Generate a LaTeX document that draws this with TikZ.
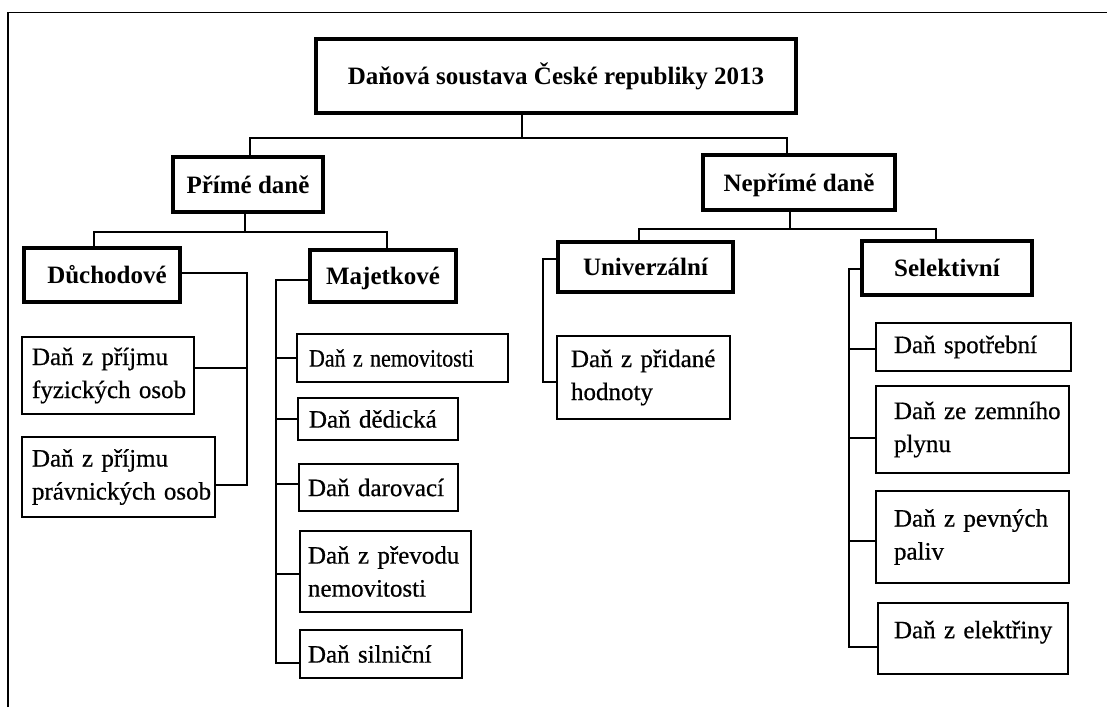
\documentclass[tikz,border=0pt]{standalone}
\usepackage{fontspec}
\setmainfont{Liberation Serif}
\newfontfamily\leaffont{Liberation Serif}[FakeBold=0.6]
\usepackage{graphicx}
\usetikzlibrary{calc}
\newcommand\lpad[2]{\leftskip=#1pt\relax #2\par}
\tikzset{
  head/.style={draw, line width=3.4pt, inner sep=0pt, text height=17pt, text depth=0pt, font=\fontsize{25}{33}\selectfont\bfseries},
  leaf/.style={draw, line width=2.4pt, inner sep=0pt, align=left, font=\fontsize{25}{33}\selectfont\leaffont},
  conn/.style={line width=2.6pt},
  frame/.style={line width=1.5pt},
}
\begin{document}
\begin{tikzpicture}[x=1pt,y=-1pt]
\useasboundingbox (0,0) rectangle (1107,707);

% frame (only top and left edges visible)
\coordinate (fa) at (8,707);
\coordinate (fb) at (8,12.3);
\coordinate (fc) at (1107,12.3);
\draw[frame] (fa) -- (fb) -- (fc);

% heading boxes
\node[head, minimum width=480pt, minimum height=74pt] (T) at (556,76) {Daňová soustava České republiky 2013};
\node[head, minimum width=150pt, minimum height=55pt] (P) at (248,184.5) {Přímé daně};
\node[head, minimum width=192pt, minimum height=55pt] (N) at (799,182.5) {Nepřímé daně};
\node[head, minimum width=156pt, minimum height=54pt] (D) at (102,275) {\hspace*{10pt}Důchodové};
\node[head, minimum width=146pt, minimum height=52pt] (M) at (383,276) {Majetkové};
\node[head, minimum width=175pt, minimum height=50pt] (U) at (645.5,267) {Univerzální};
\node[head, minimum width=170pt, minimum height=54pt] (S) at (947,268) {Selektivní};

% leaf boxes
\node[leaf, text width=172pt, minimum height=77pt] (F1) at (108,375.5) {\lpad{10}{Daň z~příjmu\\fyzických~osob}};
\node[leaf, text width=193pt, minimum height=80pt] (F2) at (118.5,477) {\lpad{10}{Daň z~příjmu\\právnických~osob}};

\node[leaf, text width=211pt, minimum height=48pt] (M1) at (402.5,358) {\lpad{12}{\scalebox{0.88}[1]{Daň z nemovitosti}}};
\node[leaf, text width=160pt, minimum height=42pt] (M2) at (378,419) {\lpad{11}{Daň dědická}};
\node[leaf, text width=159pt, minimum height=47pt] (M3) at (378.5,487.5) {\lpad{9}{Daň darovací}};
\node[leaf, text width=171pt, minimum height=81pt] (M4) at (385.5,571.5) {\lpad{8}{Daň z~převodu\\nemovitosti}};
\node[leaf, text width=162pt, minimum height=48pt] (M5) at (381,654) {\lpad{8}{Daň silniční}};

\node[leaf, text width=173pt, minimum height=83pt] (U1) at (643.5,377.5) {\lpad{14}{Daň z~přidané\\hodnoty}};

\node[leaf, text width=195pt, minimum height=48pt] (S1) at (973.5,347) {\lpad{18}{Daň spotřební}};
\node[leaf, text width=193pt, minimum height=87pt] (S2) at (972.5,429.5) {\lpad{18}{Daň ze~zemního\\plynu}};
\node[leaf, text width=193pt, minimum height=92pt] (S3) at (972.5,537) {\lpad{18}{Daň z~pevných\\paliv}};
\node[leaf, text width=190pt, minimum height=71pt, text depth=18pt] (S4) at (973,638.5) {\lpad{16}{Daň z~elektřiny}};

% top level connectors
\coordinate (tb) at (522,138);
\draw[conn] (T.south -| tb) -- (tb) -| ([xshift=2pt]P.north);
\draw[conn] (tb) -| ([xshift=-12pt]N.north);

\coordinate (pb) at (245,232);
\draw[conn] (P.south -| pb) -- (pb) -| ([xshift=-8pt]D.north);
\draw[conn] (pb) -| ([xshift=4pt]M.north);

\coordinate (nb) at (790,229);
\draw[conn] (N.south -| nb) -- (nb) -| ([xshift=-6.5pt]U.north);
\draw[conn] (nb) -| ([xshift=-11pt]S.north);

% Duchodove group
\coordinate (dv) at (247,0);
\coordinate (de) at ([yshift=2pt]D.east);
\coordinate (f1e) at ([yshift=7.5pt]F1.east);
\coordinate (f2e) at ([yshift=-8pt]F2.east);
\draw[conn] (de) -| (dv |- f2e) -- (f2e);
\draw[conn] (f1e) -- (dv |- f1e);

% Majetkove group
\coordinate (mv) at (276,0);
\coordinate (mw) at ([yshift=-4pt]M.west);
\coordinate (m1w) at (M1.west);
\coordinate (m2w) at (M2.west);
\coordinate (m3w) at ([yshift=3.5pt]M3.west);
\coordinate (m4w) at ([yshift=-2.5pt]M4.west);
\coordinate (m5w) at ([yshift=-9pt]M5.west);
\draw[conn] (mw) -| (mv |- m5w) -- (m5w);
\foreach \b in {m1w,m2w,m3w,m4w} \draw[conn] (mv |- \b) -- (\b);

% Univerzalni group
\coordinate (uv) at (543,0);
\coordinate (uw) at ([yshift=8pt]U.west);
\coordinate (u1w) at ([yshift=-4.5pt]U1.west);
\draw[conn] (uw) -| (uv |- u1w) -- (u1w);

% Selektivni group
\coordinate (sv) at (849,0);
\coordinate (sw) at ([yshift=-1pt]S.west);
\coordinate (s1w) at ([yshift=-2pt]S1.west);
\coordinate (s2w) at ([yshift=-8.5pt]S2.west);
\coordinate (s3w) at ([yshift=-4pt]S3.west);
\coordinate (s4w) at ([yshift=-8.5pt]S4.west);
\draw[conn] (sw) -| (sv |- s4w) -- (s4w);
\foreach \b in {s1w,s2w,s3w} \draw[conn] (sv |- \b) -- (\b);
\end{tikzpicture}
\end{document}
